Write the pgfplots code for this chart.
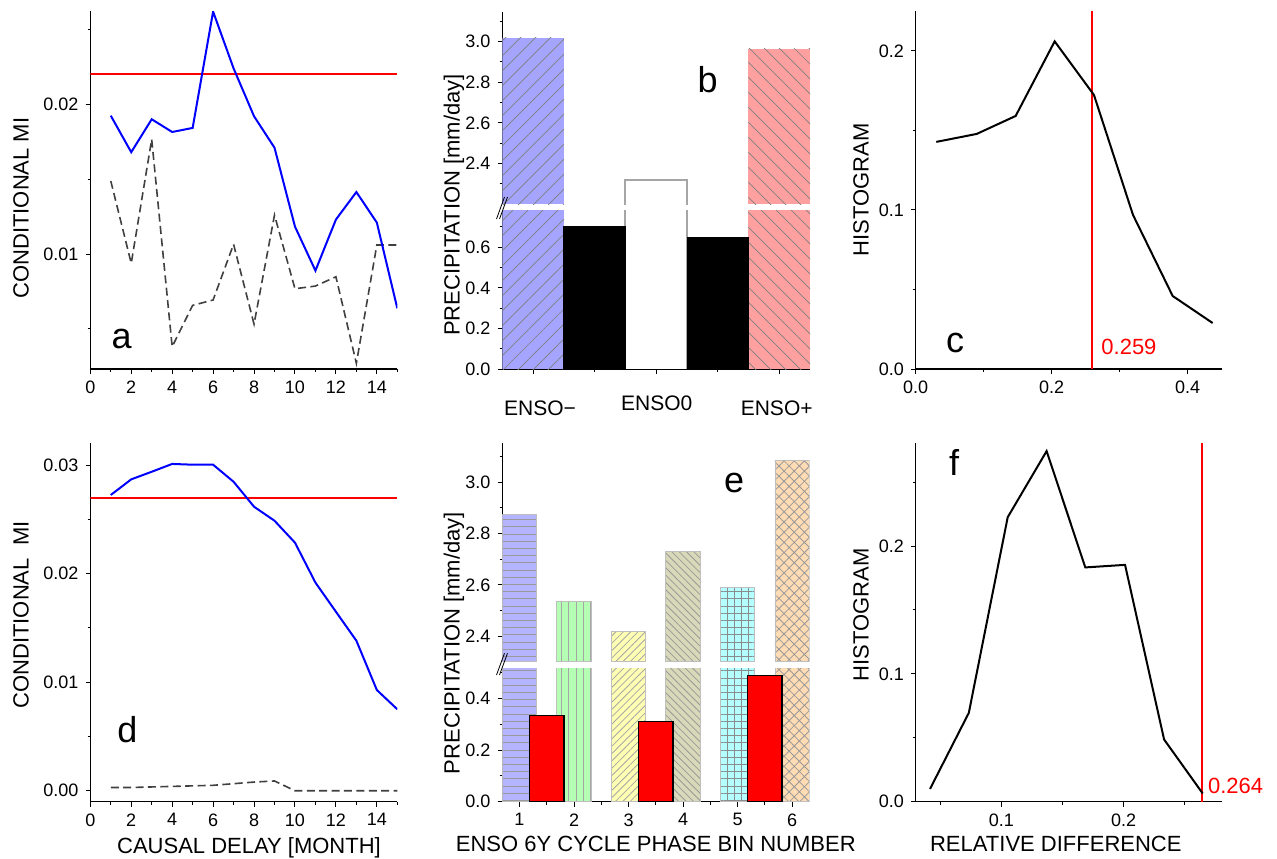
\documentclass[border=0pt]{standalone}
\usepackage{fontspec}
\setmainfont{Liberation Sans}
\usepackage{pgfplots}
\pgfplotsset{compat=1.18}
\usetikzlibrary{patterns.meta}
\definecolor{bblue}{HTML}{A5A5FF}
\definecolor{bpink}{HTML}{FFA0A0}
\definecolor{eblue}{HTML}{B4B4FF}
\definecolor{egreen}{HTML}{B4FFB4}
\definecolor{eyellow}{HTML}{FFFFB4}
\definecolor{eolive}{HTML}{D9D9BA}
\definecolor{ecyan}{HTML}{B4FFFF}
\definecolor{epeach}{HTML}{FFDCB4}
\definecolor{dgray}{HTML}{404040}
\pgfplotsset{
  base/.style={
    scale only axis, anchor=south west, no markers,
    axis line style={line width=0.6pt, -},
    tick style={line width=0.5pt, black},
    tick align=outside,
    major tick length=2.4pt, minor tick length=1.4pt,
    tick label style={font=\fontsize{9}{10}\selectfont},
    scaled ticks=false,
    clip=true,
  },
  lowax/.style={base, axis x line*=bottom, axis y line*=left},
  upax/.style={base, axis x line=none, axis y line*=left},
}
\newcommand{\labfont}{\fontsize{11}{13}\selectfont}
\newcommand{\letfont}{\fontsize{18}{20}\selectfont}
\newcommand{\bside}{%
  \addplot[ybar, bar width=1, fill=bblue, draw=none, postaction={pattern={Lines[angle=45,distance=5.3pt,line width=0.35pt]}, pattern color=black!50}] coordinates {(1,3.02)};
  \addplot[ybar, bar width=1, fill=bpink, draw=none, postaction={pattern={Lines[angle=-45,distance=5.3pt,line width=0.35pt]}, pattern color=black!50}] coordinates {(5,2.966)};
}
\newcommand{\ebars}{%
  \addplot[ybar, bar width=0.63, fill=eblue, draw=gray!50, postaction={pattern={Lines[angle=0,distance=3.6pt,line width=0.4pt]}, pattern color=black!40}] coordinates {(1,2.874)};
  \addplot[ybar, bar width=0.63, fill=egreen, draw=gray!50, postaction={pattern={Lines[angle=90,distance=3.6pt,line width=0.4pt]}, pattern color=black!35}] coordinates {(2,2.535)};
  \addplot[ybar, bar width=0.63, fill=eyellow, draw=gray!50, postaction={pattern={Lines[angle=45,distance=2.6pt,line width=0.4pt]}, pattern color=black!35}] coordinates {(3,2.418)};
  \addplot[ybar, bar width=0.63, fill=eolive, draw=gray!50, postaction={pattern={Lines[angle=-45,distance=2.6pt,line width=0.4pt]}, pattern color=black!40}] coordinates {(4,2.730)};
  \addplot[ybar, bar width=0.63, fill=ecyan, draw=gray!50, postaction={pattern={Hatch[angle=0,distance=3.6pt,line width=0.4pt]}, pattern color=black!45}] coordinates {(5,2.591)};
  \addplot[ybar, bar width=0.63, fill=epeach, draw=gray!50, postaction={pattern={Hatch[angle=45,distance=3.6pt,line width=0.4pt]}, pattern color=black!40}] coordinates {(6,3.084)};
}
\begin{document}
\begin{tikzpicture}
\path[use as bounding box] (0,0) rectangle (638.5pt,429pt);

% ---------- panel a ----------
\begin{axis}[lowax, at={(45.15pt,244.5pt)}, width=153.5pt, height=179pt,
  xmin=0, xmax=15, ymin=0.00232, ymax=0.02623,
  xtick={0,2,...,14}, xticklabels={0,2,4,6,8,10,12,14}, minor xtick={1,3,...,15},
  ytick={0.01,0.02}, yticklabels={0.01,0.02}, minor ytick={0.005,0.015,0.025}]
\addplot[red, line width=1pt] coordinates {(0,0.022) (15,0.022)};
\addplot[dgray, line width=0.8pt, dash pattern=on 4pt off 2.2pt] coordinates {
(1,0.01488) (2,0.00938) (3,0.01766) (4,0.00381) (5,0.00657) (6,0.00693) (7,0.01065) (8,0.00532)
(9,0.0126) (10,0.00768) (11,0.00786) (12,0.00848) (13,0.0027) (14,0.0106) (15,0.0106)};
\addplot[blue, line width=1pt] coordinates {
(1,0.01924) (2,0.0168) (3,0.0190) (4,0.01815) (5,0.01842) (6,0.02619) (7,0.0224) (8,0.0192)
(9,0.0171) (10,0.01183) (11,0.00889) (12,0.0123) (13,0.01414) (14,0.0121) (15,0.00637)};
\end{axis}

% ---------- panel d ----------
\begin{axis}[lowax, at={(45.15pt,28.15pt)}, width=153.5pt, height=179.2pt,
  xmin=0, xmax=15, ymin=-0.00101, ymax=0.032,
  xtick={0,2,...,14}, xticklabels={0,2,4,6,8,10,12,14}, minor xtick={1,3,...,15},
  ytick={0,0.01,0.02,0.03}, yticklabels={0.00,0.01,0.02,0.03}, minor ytick={0.005,0.015,0.025}]
\addplot[red, line width=1pt] coordinates {(0,0.027) (15,0.027)};
\addplot[dgray, line width=0.8pt, dash pattern=on 4pt off 2.2pt] coordinates {
(1,0.0003) (2,0.0003) (3,0.00035) (4,0.0004) (5,0.00045) (6,0.0005) (7,0.00065) (8,0.0008)
(9,0.0009) (10,0) (11,0) (12,0) (13,0) (14,0) (15,0)};
\addplot[blue, line width=1pt] coordinates {
(1,0.02724) (2,0.02868) (3,0.02938) (4,0.0301) (5,0.03003) (6,0.03003) (7,0.02846) (8,0.02616)
(9,0.02487) (10,0.02285) (11,0.01917) (12,0.01649) (13,0.01382) (14,0.00928) (15,0.0075)};
\end{axis}

% ---------- panel c ----------
\begin{axis}[lowax, at={(457.85pt,244.5pt)}, width=153.3pt, height=179pt,
  xmin=0, xmax=0.451, ymin=0, ymax=0.2251,
  xtick={0,0.2,0.4}, xticklabels={0.0,0.2,0.4}, minor xtick={0.1,0.3},
  ytick={0,0.1,0.2}, yticklabels={0.0,0.1,0.2}, minor ytick={0.05,0.15}]
\addplot[red, line width=1pt] coordinates {(0.259,0) (0.259,0.2251)};
\addplot[black, line width=1pt] coordinates {
(0.0303,0.1428) (0.0897,0.1478) (0.147,0.1591) (0.2044,0.206) (0.2622,0.1723) (0.3196,0.0969) (0.378,0.0459) (0.4368,0.0289)};
\end{axis}

% ---------- panel f ----------
\begin{axis}[lowax, at={(457.85pt,28.15pt)}, width=153.3pt, height=179.2pt,
  xmin=0.030, xmax=0.2806, ymin=0, ymax=0.2804,
  xtick={0.1,0.2}, xticklabels={0.1,0.2}, minor xtick={0.05,0.15,0.25},
  ytick={0,0.1,0.2}, yticklabels={0.0,0.1,0.2}, minor ytick={0.05,0.15,0.25}]
\addplot[red, line width=1pt] coordinates {(0.264,0) (0.264,0.2804)};
\addplot[black, line width=1pt] coordinates {
(0.0417,0.010) (0.0734,0.0695) (0.1052,0.2226) (0.137,0.2743) (0.1686,0.1833) (0.2011,0.1853) (0.2330,0.0487) (0.2646,0.0064)};
\end{axis}

% ---------- panel b ----------
\begin{axis}[lowax, at={(251.15pt,244.35pt)}, width=153.85pt, height=79.15pt,
  xmin=0.5, xmax=5.5, ymin=0, ymax=0.778,
  xtick={1,3,5}, xticklabels={,,}, minor xtick={2,4},
  ytick={0,0.2,0.4,0.6}, yticklabels={0.0,0.2,0.4,0.6}, minor ytick={0.1,0.3,0.5,0.7}]
\bside
\addplot[ybar, bar width=1, fill=white, draw=none] coordinates {(3,2.318)};
\addplot[gray!70, line width=0.9pt] coordinates {(2.5,0) (2.5,2.318) (3.5,2.318) (3.5,0)};
\addplot[ybar, bar width=1, fill=black, draw=black] coordinates {(2,0.70)};
\addplot[ybar, bar width=1, fill=black, draw=black] coordinates {(4,0.647)};
\end{axis}
\begin{axis}[upax, at={(251.15pt,326.85pt)}, width=153.85pt, height=96.3pt,
  xmin=0.5, xmax=5.5, ymin=2.2, ymax=3.147,
  ytick={2.4,2.6,2.8,3.0}, yticklabels={2.4,2.6,2.8,3.0}, minor ytick={2.3,2.5,2.7,2.9,3.1}]
\bside
\addplot[gray!70, line width=0.9pt] coordinates {(2.5,2.0) (2.5,2.318) (3.5,2.318) (3.5,2.0)};
\end{axis}

% ---------- panel e ----------
\begin{axis}[lowax, at={(251.15pt,28.15pt)}, width=153.5pt, height=66.5pt,
  xmin=0.685, xmax=6.315, ymin=0, ymax=0.5145,
  xtick={1,...,6}, xticklabels={1,2,3,4,5,6}, minor xtick={1.5,2.5,3.5,4.5,5.5},
  ytick={0,0.2,0.4}, yticklabels={0.0,0.2,0.4}, minor ytick={0.1,0.3,0.5}]
\ebars
\addplot[ybar, bar width=0.63, fill=red, draw=black, line width=0.6pt] coordinates {(1.5,0.334)};
\addplot[ybar, bar width=0.63, fill=red, draw=black, line width=0.6pt] coordinates {(3.5,0.311)};
\addplot[ybar, bar width=0.63, fill=red, draw=black, line width=0.6pt] coordinates {(5.5,0.488)};
\end{axis}
\begin{axis}[upax, at={(251.15pt,98.15pt)}, width=153.5pt, height=109.2pt,
  xmin=0.685, xmax=6.315, ymin=2.301, ymax=3.152,
  ytick={2.4,2.6,2.8,3.0}, yticklabels={2.4,2.6,2.8,3.0}, minor ytick={2.5,2.7,2.9,3.1}]
\ebars
\end{axis}

% break marks
\draw[line width=0.4pt] (248.25pt,319.5pt) -- (252.25pt,330.5pt);
\draw[line width=0.4pt] (249.75pt,319.5pt) -- (253.75pt,330.5pt);
\draw[line width=0.4pt] (248.25pt,91.5pt) -- (252.25pt,102.4pt);
\draw[line width=0.4pt] (249.75pt,91.5pt) -- (253.75pt,102.4pt);

% axis labels
\node[rotate=90, font=\labfont] at (10.5pt,325pt) {CONDITIONAL MI};
\node[rotate=90, font=\labfont] at (10.5pt,121.5pt) {CONDITIONAL\ \ MI};
\node[rotate=90, font=\labfont] at (227pt,326.5pt) {PRECIPITATION [mm/day]};
\node[rotate=90, font=\labfont] at (227pt,107.5pt) {PRECIPITATION [mm/day]};
\node[rotate=90, font=\labfont] at (430.5pt,334pt) {HISTOGRAM};
\node[rotate=90, font=\labfont] at (430.5pt,121.5pt) {HISTOGRAM};
\node[anchor=base, font=\labfont, inner sep=0pt] at (124.5pt,2.5pt) {CAUSAL DELAY [MONTH]};
\node[anchor=base, font=\labfont, inner sep=0pt] at (327.9pt,3.15pt) {ENSO 6Y CYCLE PHASE BIN NUMBER};
\node[anchor=base, font=\labfont, inner sep=0pt] at (527.9pt,3.15pt) {RELATIVE DIFFERENCE};

% category labels of b
\node[anchor=base, font=\fontsize{10.5}{12}\selectfont, inner sep=0pt] at (270pt,221.5pt) {ENSO−};
\node[anchor=base, font=\fontsize{10.5}{12}\selectfont, inner sep=0pt] at (328.35pt,224pt) {ENSO0};
\node[anchor=base, font=\fontsize{10.5}{12}\selectfont, inner sep=0pt] at (388.35pt,221.5pt) {ENSO+};

% red values
\node[anchor=base west, font=\labfont, text=red, inner sep=0pt] at (550.5pt,252pt) {0.259};
\node[anchor=base west, font=\labfont, text=red, inner sep=0pt] at (603.85pt,32.35pt) {0.264};

% panel letters
\node[anchor=base, font=\letfont, inner sep=0pt] at (60.85pt,254.85pt) {a};
\node[anchor=base, font=\letfont, inner sep=0pt] at (353.75pt,382.5pt) {b};
\node[anchor=base, font=\letfont, inner sep=0pt] at (477.5pt,253pt) {c};
\node[anchor=base, font=\letfont, inner sep=0pt] at (63.75pt,58pt) {d};
\node[anchor=base, font=\letfont, inner sep=0pt] at (367pt,183pt) {e};
\node[anchor=base, font=\letfont, inner sep=0pt] at (477pt,191.5pt) {f};
\end{tikzpicture}
\end{document}
